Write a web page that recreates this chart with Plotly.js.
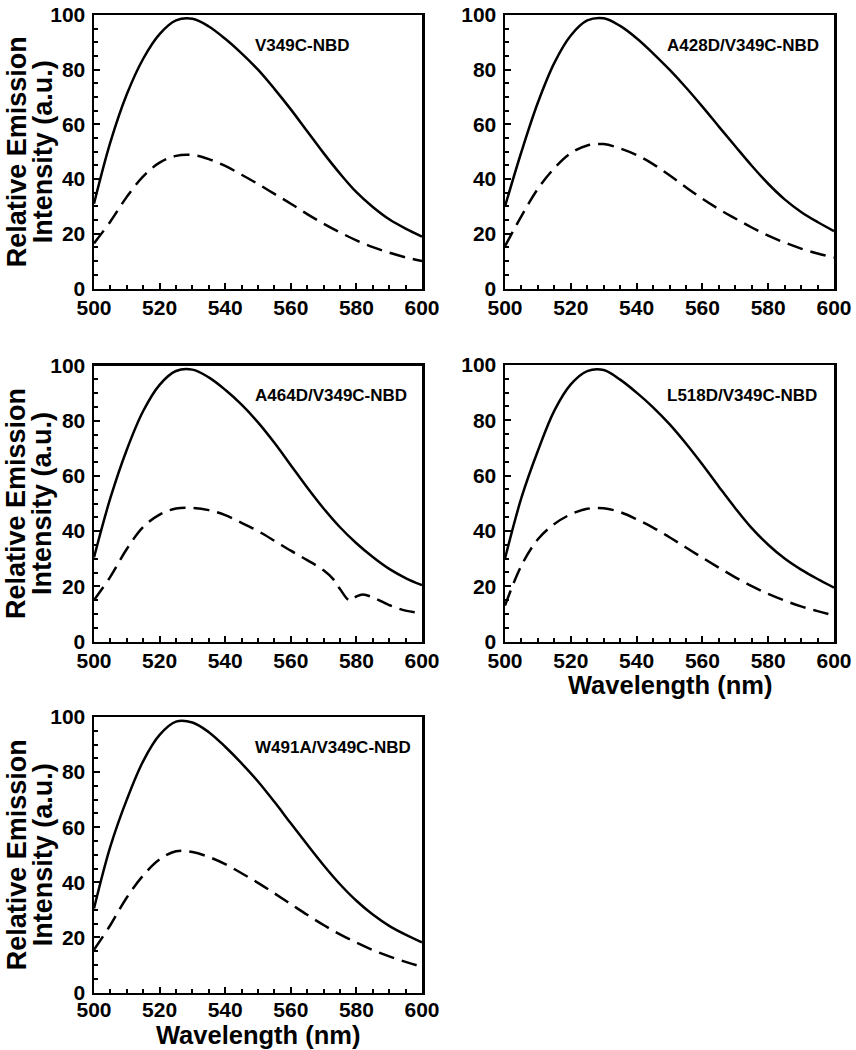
<!DOCTYPE html>
<html>
<head>
<meta charset="utf-8">
<script src="https://cdn.plot.ly/plotly-3.0.1.min.js"></script>
<style>html,body{margin:0;padding:0;background:#fff;}#chart{width:856px;height:1050px;}</style>
</head>
<body>
<div id="chart"></div>
<script>
// ---- data ----
const wavelength = [500,505,510,515,520,525,530,535,540,545,550,555,560,565,570,575,580,585,590,595,600];

const panelLabels = ["V349C-NBD","A428D/V349C-NBD","A464D/V349C-NBD","L518D/V349C-NBD","W491A/V349C-NBD"];

// solid curves
const v349cSolid = [31,53.5,71,84,93,98,98.6,95.8,91.3,86,80,73,65.5,57.5,49.5,42,35.2,29.8,25.3,21.9,19];
const a428dSolid = [30,50,68,82.5,92.5,98,98.8,96,91.5,86,80,73.5,66.5,59.2,52,44.9,38.3,32.6,28,24.3,21];
const a464dSolid = [30.5,52,69.5,83.5,93,98,98.5,95.7,91.2,85.8,79.4,72,63.9,55.8,48.2,41.4,35.6,30.6,26.3,23,20.4];
const l518dSolid = [30,52,69,83.5,93,97.8,98.2,94.7,90,84.7,78.6,71.6,64,56,48.2,41,35,30,26,22.6,19.5];
const w491aSolid = [30.5,53,70,84,93.5,98.3,98,94.5,89.2,83.2,76.6,69.2,61.4,53.7,46.2,39.3,33.3,28.3,24.2,21,18.2];

// dashed curves
const v349cDashed = [16.5,24.5,33.5,41,46,48.5,48.8,47.3,44.8,41.6,38.2,34.6,31,27.2,23.7,20.5,17.6,15.1,13.1,11.4,10];
const a428dDashed = [15.5,26.5,36.5,44,49.5,52.3,52.8,51.2,48.8,45.5,41.4,37,32.8,29,25.6,22.3,19.3,16.8,14.6,12.8,11.3];
const a464dDashedWavelength = [500,505,510,515,520,525,530,535,540,545,550,555,560,565,570,573,575,578,580,582,585,590,595,600];
const a464dDashed = [15,23.5,33.5,41.5,46,48.2,48.4,47.6,45.8,43,40,36.5,32.9,29.5,25.8,22.5,19,14.8,16.3,17,16,13.2,11.2,10.3];
const l518dDashed = [13,27.5,37,42.5,46,48,48.2,46.8,44.2,41.2,37.7,34,30.3,26.7,23.2,20,17.2,14.8,12.7,11,9.4];
const w491aDashed = [15.5,24.5,34.5,42.5,48.3,51.3,51,49.2,46.6,43.3,39.8,36,32.1,28.2,24.5,21.1,18.1,15.4,13.1,11.1,9.3];

const xTickVals = [500,520,540,560,580,600];
const yTickVals = [0,20,40,60,80,100];
const yTitleLines = ["Relative Emission","Intensity (a.u.)"];
const xTitle = "Wavelength (nm)";

// ---- panels ----
const panels = [
  {solidX: wavelength, solid: v349cSolid, dashedX: wavelength, dashed: v349cDashed},
  {solidX: wavelength, solid: a428dSolid, dashedX: wavelength, dashed: a428dDashed},
  {solidX: wavelength, solid: a464dSolid, dashedX: a464dDashedWavelength, dashed: a464dDashed},
  {solidX: wavelength, solid: l518dSolid, dashedX: wavelength, dashed: l518dDashed},
  {solidX: wavelength, solid: w491aSolid, dashedX: wavelength, dashed: w491aDashed}
];

const W = 856, H = 1050;
// frame boxes in pixels [left, right, top, bottom]
const boxes = [
  [94, 422, 15, 288.5],
  [505, 834, 15, 288.5],
  [94, 422, 365.5, 641.5],
  [505, 834, 365, 641.5],
  [94, 422, 717, 992.5]
];
// gap (px) between frame bottom and the x-title centre, for the panels that carry one
const xTitleGap = {4: 44, 5: 42.5};
const xLabelStandoff = {1: -1, 2: -1, 3: -1, 4: -1, 5: -3};

const FONT = "Liberation Sans, Arial, Helvetica, sans-serif";
const traces = [];
const layout = {
  width: W, height: H,
  margin: {l:0, r:0, t:0, b:0},
  paper_bgcolor: "#fff", plot_bgcolor: "#fff",
  showlegend: false,
  font: {family: FONT, color: "#000"},
  annotations: []
};

panels.forEach((p, i) => {
  const n = i + 1;
  const xa = "x" + (n === 1 ? "" : n), ya = "y" + (n === 1 ? "" : n);
  traces.push({x: p.solidX, y: p.solid, xaxis: xa, yaxis: ya, type: "scatter", mode: "lines",
    line: {color: "#000", width: 2.5, shape: "spline", smoothing: 1}, hoverinfo: "skip"});
  traces.push({x: p.dashedX, y: p.dashed, xaxis: xa, yaxis: ya, type: "scatter", mode: "lines",
    line: {color: "#000", width: 2.5, dash: "16px,8px", shape: "spline", smoothing: 1}, hoverinfo: "skip"});
  const b = boxes[i];
  const axCommon = {
    showline: true, linewidth: 2.5, linecolor: "#000", mirror: true,
    showgrid: false, zeroline: false,
    ticks: "inside", ticklen: 6, tickwidth: 2, tickcolor: "#000",
    tickfont: {family: FONT, size: 21, weight: "bold", color: "#000"},
    fixedrange: true
  };
  layout["xaxis" + (n === 1 ? "" : n)] = Object.assign({}, axCommon, {
    domain: [b[0] / W, b[1] / W], anchor: ya, range: [500, 600],
    tickmode: "array", tickvals: xTickVals,
    minor: {dtick: 5, tick0: 500, ticks: "inside", ticklen: 3.5, tickwidth: 2, tickcolor: "#000", showgrid: false},
    ticklabelstandoff: xLabelStandoff[n]
  });
  layout["yaxis" + (n === 1 ? "" : n)] = Object.assign({}, axCommon, {
    domain: [1 - b[3] / H, 1 - b[2] / H], anchor: xa, range: [0, 100],
    tickmode: "array", tickvals: yTickVals,
    minor: {dtick: 5, tick0: 0, ticks: "inside", ticklen: 3.5, tickwidth: 2, tickcolor: "#000", showgrid: false},
    ticklabelstandoff: 2
  });
  layout.annotations.push({
    xref: xa, yref: ya, x: 548.5, y: 89, text: panelLabels[i], showarrow: false,
    xanchor: "left", yanchor: "middle",
    font: {family: FONT, size: 17, weight: "bold", color: "#000"}
  });
  // y-axis titles on left panels
  if (n === 1 || n === 3 || n === 5) {
    const yc = 1 - ((b[2] + b[3]) / 2) / H;
    layout.annotations.push({xref: "paper", yref: "paper", x: 16.5 / W, y: yc, text: yTitleLines[0],
      textangle: -90, showarrow: false, xanchor: "center", yanchor: "middle",
      font: {family: FONT, size: 27, weight: "bold", color: "#000"}});
    layout.annotations.push({xref: "paper", yref: "paper", x: 42.5 / W, y: yc, text: yTitleLines[1],
      textangle: -90, showarrow: false, xanchor: "center", yanchor: "middle",
      font: {family: FONT, size: 27, weight: "bold", color: "#000"}});
  }
  // x-axis titles on bottom panels
  if (xTitleGap[n] !== undefined) {
    layout.annotations.push({xref: "paper", yref: "paper", x: ((b[0] + b[1]) / 2) / W,
      y: 1 - (b[3] + xTitleGap[n]) / H, text: xTitle, showarrow: false, xanchor: "center", yanchor: "middle",
      font: {family: FONT, size: 25.5, weight: "bold", color: "#000"}});
  }
});

Plotly.newPlot("chart", traces, layout, {displayModeBar: false, staticPlot: true});
</script>
</body>
</html>
